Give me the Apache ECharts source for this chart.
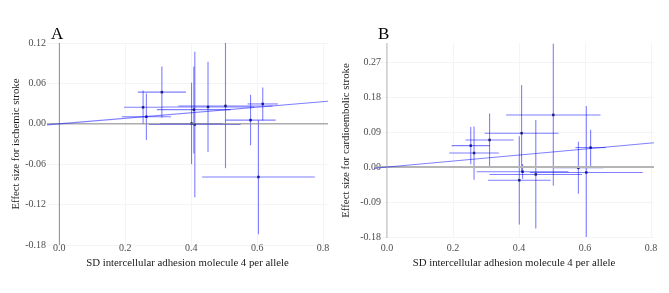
<!DOCTYPE html>
<html>
<head>
<meta charset="utf-8">
<script src="https://cdn.jsdelivr.net/npm/echarts@6/dist/echarts.min.js"></script>
<style>
  html, body { margin: 0; padding: 0; background: #fff; }
  #chart { width: 669px; height: 293px; }
</style>
</head>
<body>
<div id="chart"></div>
<script>
  // exposure: SD ICAM-4 per allele (shared by both panels)
  let snpX = [0.254, 0.264, 0.311, 0.401, 0.411, 0.408, 0.451, 0.504, 0.580, 0.617, 0.604];
  let snpXLow = [0.196, 0.189, 0.238, 0.306, 0.272, 0.296, 0.311, 0.361, 0.504, 0.571, 0.433];
  let snpXHigh = [0.312, 0.339, 0.384, 0.496, 0.550, 0.520, 0.591, 0.647, 0.656, 0.663, 0.775];

  // panel A: ischemic stroke
  let ischemicY = [0.0245, 0.0105, 0.047, 0.0005, -0.001, 0.021, 0.025, 0.0265, 0.0055, 0.0295, -0.079];
  let ischemicLow = [-0.0005, -0.024, 0.009, -0.060, -0.109, -0.044, -0.042, -0.066, -0.032, 0.005, -0.164];
  let ischemicHigh = [0.0495, 0.045, 0.085, 0.061, 0.107, 0.085, 0.092, 0.120, 0.043, 0.054, 0.005];
  let ischemicSlope = 0.041;
  let ischemicTicks = [-0.18, -0.12, -0.06, 0.00, 0.06, 0.12];

  // panel B: cardioembolic stroke
  let cardioY = [0.055, 0.036, 0.0696, -0.034, -0.012, 0.087, -0.019, 0.134, -0.002, 0.050, -0.014];
  let cardioLow = [0.007, -0.033, 0.001, -0.148, -0.030, -0.012, -0.158, -0.048, -0.069, 0.002, -0.180];
  let cardioHigh = [0.103, 0.104, 0.138, 0.079, 0.008, 0.211, 0.121, 0.317, 0.065, 0.096, 0.157];
  let cardioSlope = 0.0774;
  let cardioTicks = [-0.18, -0.09, 0.00, 0.09, 0.18, 0.27];

  let xTicks = [0.0, 0.2, 0.4, 0.6, 0.8];

  let serif = '"Liberation Serif", "DejaVu Serif", serif';
  let barColor = 'rgba(0, 0, 255, 0.5)';

  function barData (ys, lows, highs) {
    let out = [];
    for (let i = 0; i < snpX.length; i++) {
      out.push([snpX[i], ys[i], snpXLow[i], snpXHigh[i], lows[i], highs[i]]);
    }
    return out;
  }

  function pointData (ys) {
    let out = [];
    for (let i = 0; i < snpX.length; i++) {
      out.push([snpX[i], ys[i]]);
    }
    return out;
  }

  function renderBars (params, api) {
    let x = api.value(0);
    let y = api.value(1);
    let h1 = api.coord([api.value(2), y]);
    let h2 = api.coord([api.value(3), y]);
    let v1 = api.coord([x, api.value(4)]);
    let v2 = api.coord([x, api.value(5)]);
    let style = { stroke: barColor, lineWidth: 1.1, fill: null };
    return {
      type: 'group',
      children: [
        { type: 'line', shape: { x1: h1[0], y1: h1[1], x2: h2[0], y2: h2[1] }, style: style },
        { type: 'line', shape: { x1: v1[0], y1: v1[1], x2: v2[0], y2: v2[1] }, style: style }
      ]
    };
  }

  function xAxisOpt (idx, min, max, labelMargin, nameGap) {
    return {
      gridIndex: idx,
      type: 'value',
      min: min,
      max: max,
      name: 'SD intercellular adhesion molecule 4 per allele',
      nameLocation: 'middle',
      nameGap: nameGap,
      nameTextStyle: { fontFamily: serif, fontSize: 10.8, color: '#1a1a1a' },
      axisLine: { show: false },
      axisTick: { show: false, customValues: xTicks },
      axisLabel: {
        customValues: xTicks,
        margin: labelMargin,
        fontFamily: serif,
        fontSize: 10,
        color: '#4d4d4d',
        formatter: function (v) { return v.toFixed(1); }
      },
      splitLine: { show: true, lineStyle: { color: '#f1f1f6', width: 0.8 } }
    };
  }

  function yAxisOpt (idx, min, max, ticks, name, labelMargin, nameGap) {
    return {
      gridIndex: idx,
      type: 'value',
      min: min,
      max: max,
      name: name,
      nameLocation: 'middle',
      nameGap: nameGap,
      nameTextStyle: { fontFamily: serif, fontSize: 10.8, color: '#1a1a1a' },
      axisLine: { show: false },
      axisTick: { show: false, customValues: ticks },
      axisLabel: {
        customValues: ticks,
        margin: labelMargin,
        fontFamily: serif,
        fontSize: 10,
        color: '#4d4d4d',
        formatter: function (v) { return v.toFixed(2); }
      },
      splitLine: { show: true, lineStyle: { color: '#f1f1f6', width: 0.8 } }
    };
  }

  function refLines (xi, yi, xMin, xMax, yMin, yMax, color, width) {
    return [
      {
        type: 'line', xAxisIndex: xi, yAxisIndex: yi, symbol: 'none', silent: true,
        lineStyle: { color: color, width: width },
        data: [[xMin, 0], [xMax, 0]]
      },
      {
        type: 'line', xAxisIndex: xi, yAxisIndex: yi, symbol: 'none', silent: true,
        lineStyle: { color: color, width: 1 },
        data: [[0, yMin], [0, yMax]]
      }
    ];
  }

  let axA = [-0.0375, 0.815];
  let axB = [-0.039, 0.809];
  let ayA = [-0.18, 0.12];
  let ayB = [-0.1825, 0.319];

  let chart = echarts.init(document.getElementById('chart'), null, { renderer: 'canvas' });

  let series = [];
  series = series.concat(refLines(0, 0, axA[0], axA[1], ayA[0], ayA[1], '#8a8a8a', 1));
  series = series.concat(refLines(1, 1, axB[0], axB[1], ayB[0], ayB[1], '#b5b5b5', 2));
  series.push({
    type: 'line', xAxisIndex: 0, yAxisIndex: 0, symbol: 'none', silent: true,
    lineStyle: { color: 'rgba(0, 0, 255, 0.5)', width: 1.1 },
    data: [[axA[0], axA[0] * ischemicSlope], [axA[1], axA[1] * ischemicSlope]]
  });
  series.push({
    type: 'line', xAxisIndex: 1, yAxisIndex: 1, symbol: 'none', silent: true,
    lineStyle: { color: 'rgba(0, 0, 255, 0.5)', width: 1.1 },
    data: [[axB[0], axB[0] * cardioSlope], [axB[1], axB[1] * cardioSlope]]
  });
  series.push({
    type: 'custom', xAxisIndex: 0, yAxisIndex: 0, renderItem: renderBars, silent: true,
    data: barData(ischemicY, ischemicLow, ischemicHigh)
  });
  series.push({
    type: 'custom', xAxisIndex: 1, yAxisIndex: 1, renderItem: renderBars, silent: true,
    data: barData(cardioY, cardioLow, cardioHigh)
  });
  series.push({
    type: 'scatter', xAxisIndex: 0, yAxisIndex: 0, symbol: 'rect', symbolSize: 2.5,
    itemStyle: { color: '#000070' }, data: pointData(ischemicY)
  });
  series.push({
    type: 'scatter', xAxisIndex: 1, yAxisIndex: 1, symbol: 'rect', symbolSize: 2.5,
    itemStyle: { color: '#000070' }, data: pointData(cardioY)
  });

  chart.setOption({
    animation: false,
    title: [
      { text: 'A', left: 46, top: 21, textStyle: { fontFamily: serif, fontSize: 17, fontWeight: 'normal', color: '#000' } },
      { text: 'B', left: 373, top: 21, textStyle: { fontFamily: serif, fontSize: 17, fontWeight: 'normal', color: '#000' } }
    ],
    grid: [
      { left: 47, top: 43, width: 281, height: 202 },
      { left: 374, top: 43, width: 280, height: 195 }
    ],
    xAxis: [
      xAxisOpt(0, axA[0], axA[1], -2, 11),
      xAxisOpt(1, axB[0], axB[1], 5, 18)
    ],
    yAxis: [
      yAxisOpt(0, ayA[0], ayA[1], ischemicTicks, 'Effect size for ischemic stroke', 1, 25),
      yAxisOpt(1, ayB[0], ayB[1], cardioTicks, 'Effect size for cardioembolic stroke', -7, 22)
    ],
    series: series
  });
</script>
</body>
</html>
